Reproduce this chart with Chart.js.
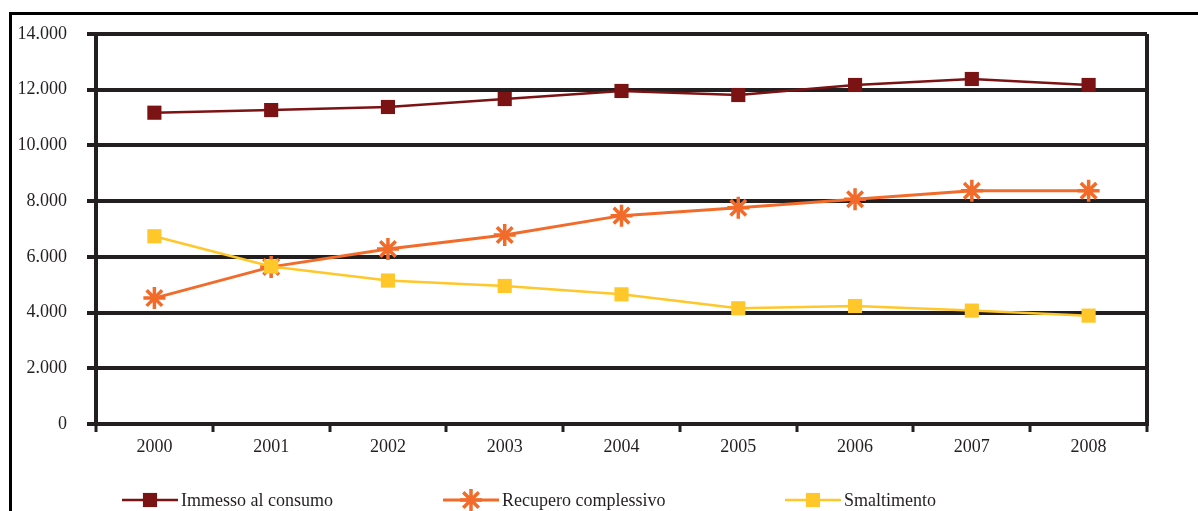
<!DOCTYPE html>
<html>
<head>
<meta charset="utf-8">
<title>Imballaggi: immesso al consumo, recupero e smaltimento</title>
<script src="https://cdn.jsdelivr.net/npm/chart.js@4.4.1/dist/chart.umd.min.js"></script>
<style>
  html, body { margin: 0; padding: 0; background: #fff; overflow: hidden; }
  #wrap { position: relative; width: 1198px; height: 511px; }
  #frame { position: absolute; left: 9px; top: 12px; width: 1200px; height: 520px;
           border-top: 3px solid #000; border-left: 3px solid #000; }
  canvas { position: absolute; left: 0; top: 0; }
</style>
</head>
<body>
<div id="wrap">
  <div id="frame"></div>
  <canvas id="chart" width="1198" height="511"></canvas>
</div>
<script>
// Categories and series (thousand tonnes)
const years = ['2000', '2001', '2002', '2003', '2004', '2005', '2006', '2007', '2008'];
const immesso = [11175, 11270, 11380, 11665, 11955, 11810, 12170, 12385, 12170];
const recupero = [4520, 5640, 6280, 6785, 7480, 7765, 8065, 8375, 8375];
const smaltimento = [6740, 5655, 5150, 4955, 4655, 4155, 4235, 4070, 3890];
const yTickLabels = ['0', '2.000', '4.000', '6.000', '8.000', '10.000', '12.000', '14.000'];
const seriesNames = ['Immesso al consumo', 'Recupero complessivo', 'Smaltimento'];

const ink = '#231f20';
const serif = '"Liberation Serif", "Times New Roman", serif';

// Legend row under the axis: line + marker + label for each series
const legendRow = { y: 500, starts: [122, 443, 785], lineLen: 56, gap: 3 };

function drawMarker(ctx, style, x, y, r, color, width) {
  ctx.save();
  ctx.fillStyle = color;
  ctx.strokeStyle = color;
  if (style === 'rect') {
    const s = r * Math.SQRT1_2;
    ctx.fillRect(x - s, y - s, 2 * s, 2 * s);
  } else if (style === 'star') {
    ctx.lineWidth = width;
    ctx.beginPath();
    for (let k = 0; k < 4; k++) {
      const a = k * Math.PI / 4;
      ctx.moveTo(x - Math.cos(a) * r, y - Math.sin(a) * r);
      ctx.lineTo(x + Math.cos(a) * r, y + Math.sin(a) * r);
    }
    ctx.stroke();
  }
  ctx.restore();
}

const bottomLegend = {
  id: 'bottomLegend',
  afterDraw(chart) {
    const ctx = chart.ctx;
    chart.data.datasets.forEach((ds, i) => {
      const x0 = legendRow.starts[i];
      const x1 = x0 + legendRow.lineLen;
      const y = legendRow.y;
      ctx.save();
      ctx.strokeStyle = ds.borderColor;
      ctx.lineWidth = ds.borderWidth;
      ctx.beginPath();
      ctx.moveTo(x0, y);
      ctx.lineTo(x1, y);
      ctx.stroke();
      drawMarker(ctx, ds.pointStyle, (x0 + x1) / 2, y, ds.pointRadius, ds.borderColor, ds.pointBorderWidth);
      ctx.fillStyle = ink;
      ctx.font = '18px ' + serif;
      ctx.textBaseline = 'middle';
      ctx.textAlign = 'left';
      ctx.fillText(ds.label, x1 + legendRow.gap, y + 1);
      ctx.restore();
    });
  }
};

new Chart(document.getElementById('chart'), {
  type: 'line',
  data: {
    labels: years,
    datasets: [
      {
        label: seriesNames[0],
        data: immesso,
        borderColor: '#7b1214',
        backgroundColor: '#7b1214',
        borderWidth: 2.5,
        pointStyle: 'rect',
        pointRadius: 10,
        pointBorderWidth: 0,
        tension: 0,
        order: 0
      },
      {
        label: seriesNames[1],
        data: recupero,
        borderColor: '#f26b2a',
        backgroundColor: '#f26b2a',
        borderWidth: 3,
        pointStyle: 'star',
        pointRadius: 11,
        pointBorderWidth: 3.5,
        tension: 0,
        order: 2
      },
      {
        label: seriesNames[2],
        data: smaltimento,
        borderColor: '#ffc72a',
        backgroundColor: '#ffc72a',
        borderWidth: 2.5,
        pointStyle: 'rect',
        pointRadius: 10,
        pointBorderWidth: 0,
        tension: 0,
        order: 1
      }
    ]
  },
  options: {
    responsive: false,
    animation: false,
    devicePixelRatio: 1,
    layout: { autoPadding: false, padding: { top: 34, right: 51, left: 0, bottom: 0 } },
    plugins: { legend: { display: false }, tooltip: { enabled: false } },
    scales: {
      x: {
        type: 'category',
        offset: true,
        grid: {
          offset: true,
          color: c => (c.type === 'scale' ? ink : 'rgba(0,0,0,0)'),
          lineWidth: 4,
          tickLength: 8,
          tickColor: ink,
          tickWidth: 3
        },
        border: { display: true, color: ink, width: 4 },
        ticks: { font: { family: serif, size: 18 }, color: ink, padding: 4, maxRotation: 0 },
        afterFit(s) { s.height = 87; }
      },
      y: {
        min: 0,
        max: 14000,
        grid: { color: ink, lineWidth: 4, tickLength: 9, tickColor: ink, tickWidth: 4 },
        border: { display: true, color: ink, width: 4 },
        ticks: {
          stepSize: 2000,
          font: { family: serif, size: 18 },
          color: ink,
          padding: 20,
          callback: v => yTickLabels[Math.round(v / 2000)]
        },
        afterFit(s) { s.width = 96; }
      }
    }
  },
  plugins: [bottomLegend]
});
</script>
</body>
</html>
